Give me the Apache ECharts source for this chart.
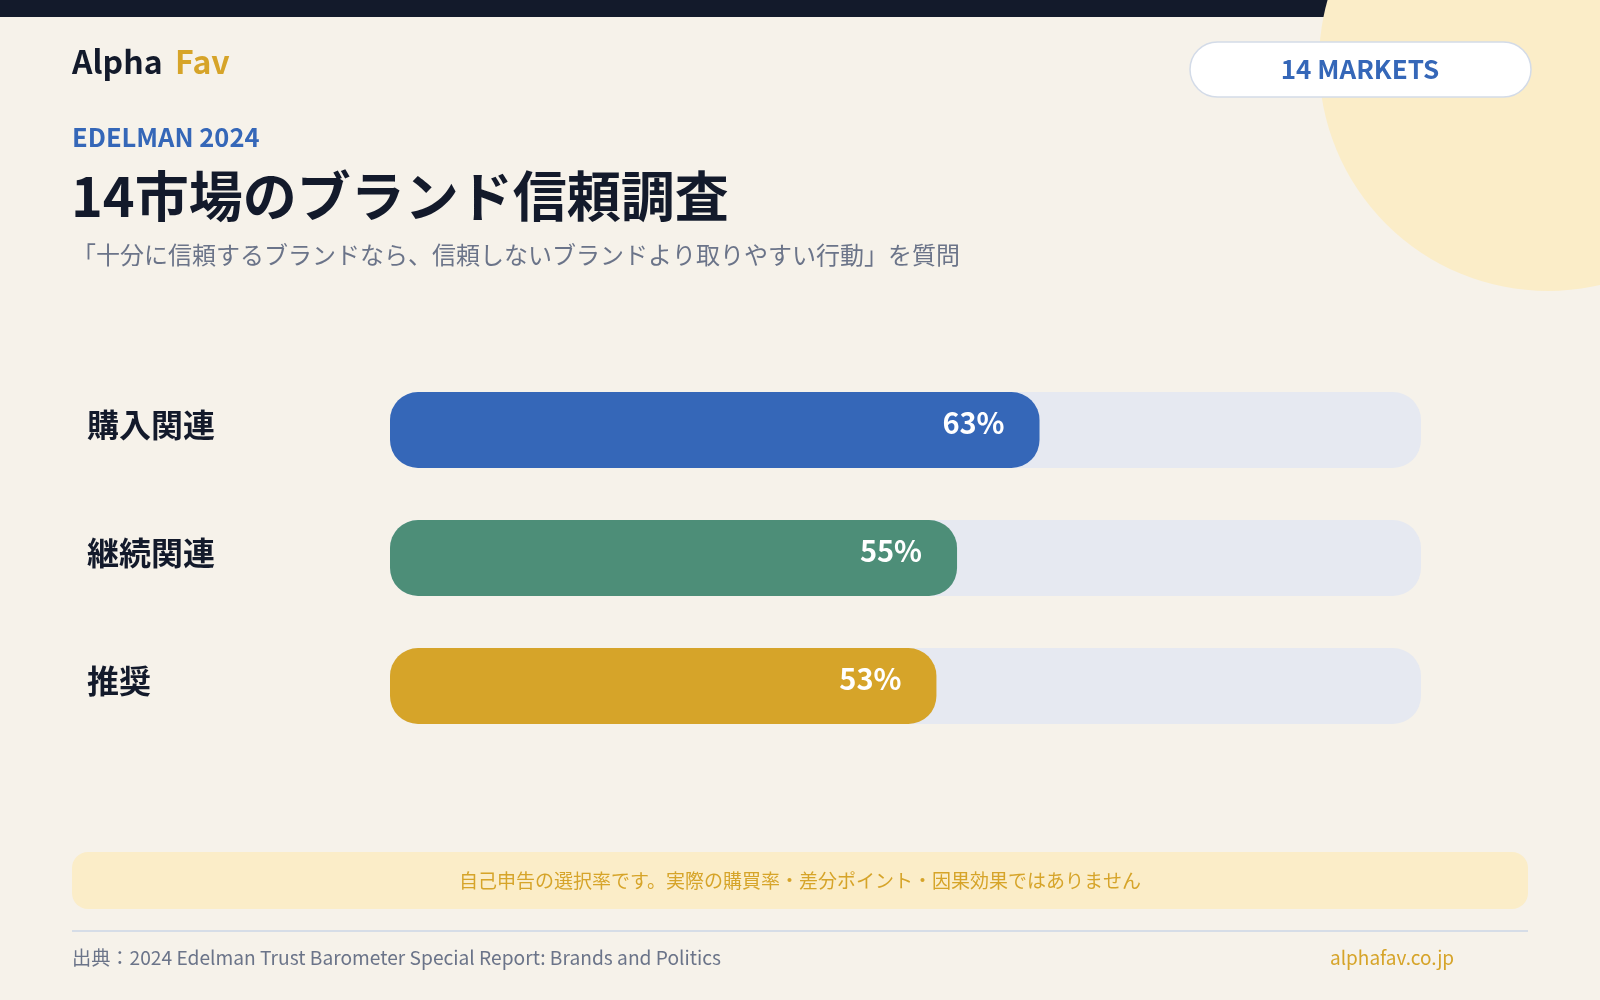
<!DOCTYPE html>
<html lang="ja">
<head>
<meta charset="utf-8">
<title>14市場のブランド信頼調査</title>
<script src="https://cdn.jsdelivr.net/npm/echarts@6/dist/echarts.min.js"></script>
<style>
  html, body { margin: 0; padding: 0; background: #f6f2ea; }
  #main { width: 1600px; height: 1000px; }
</style>
</head>
<body>
<div id="main"></div>
<script>
// data
var categories = ['購入関連', '継続関連', '推奨'];
var values = [63, 55, 53];
var barColors = ['#3567b8', '#4d8e78', '#d6a429'];

var FONT = '"Noto Sans CJK JP", "Noto Sans", sans-serif';
var chartDom = document.getElementById('main');
var myChart = echarts.init(chartDom);
var option;

option = {
    backgroundColor: '#f6f2ea',
    textStyle: { fontFamily: FONT },
    grid: {
        left: 390,
        right: 179,
        top: 366,
        height: 384,
        containLabel: false
    },
    xAxis: {
        type: 'value',
        min: 0,
        max: 100,
        show: false
    },
    yAxis: {
        type: 'category',
        data: categories,
        inverse: true,
        axisLine: { show: false },
        axisTick: { show: false },
        splitLine: { show: false },
        axisLabel: {
            align: 'left',
            margin: 303,
            formatter: '{cat|{value}}',
            rich: {
                cat: {
                    color: '#131a2b',
                    fontSize: 32,
                    fontWeight: 'bold',
                    fontFamily: FONT,
                    padding: [0, 0, 10, 0]
                }
            }
        }
    },
    series: [{
        type: 'bar',
        data: values.map(function (v, i) {
            return { value: v, itemStyle: { color: barColors[i] } };
        }),
        barWidth: 76,
        showBackground: true,
        backgroundStyle: {
            color: '#e6e9f1',
            borderRadius: 28
        },
        itemStyle: { borderRadius: 28 },
        label: {
            show: true,
            position: 'insideRight',
            distance: 35,
            offset: [0, -7],
            formatter: '{c}%',
            color: '#ffffff',
            fontSize: 29,
            fontWeight: 'bold',
            fontFamily: FONT
        },
        silent: true
    }],
    graphic: [
        // top dark band
        { type: 'rect', z: 1, shape: { x: 0, y: 0, width: 1600, height: 17 }, style: { fill: '#131a2b' } },
        // decorative circle
        { type: 'circle', z: 2, shape: { cx: 1548, cy: 62, r: 229 }, style: { fill: '#fbedc8' } },
        // brand
        { type: 'text', z: 5, x: 72, y: 62, style: { text: 'Alpha', fill: '#131a2b', font: 'bold 32px ' + FONT, verticalAlign: 'middle' } },
        { type: 'text', z: 5, x: 175, y: 62, style: { text: 'Fav', fill: '#d6a429', font: 'bold 32px ' + FONT, verticalAlign: 'middle' } },
        // markets pill
        { type: 'rect', z: 5, shape: { x: 1190, y: 42, width: 341, height: 55, r: 27.5 }, style: { fill: '#ffffff', stroke: '#d3dbe8', lineWidth: 1.5 } },
        { type: 'text', z: 6, x: 1360, y: 69, style: { text: '14 MARKETS', fill: '#3567b8', font: 'bold 26px ' + FONT, align: 'center', verticalAlign: 'middle' } },
        // headings
        { type: 'text', z: 5, x: 72, y: 137, style: { text: 'EDELMAN 2024', fill: '#3567b8', font: 'bold 25.5px ' + FONT, verticalAlign: 'middle' } },
        { type: 'text', z: 5, x: 71, y: 196, style: { text: '14市場のブランド信頼調査', fill: '#131a2b', font: 'bold 54px ' + FONT, verticalAlign: 'middle' } },
        { type: 'text', z: 5, x: 72, y: 255, style: { text: '「十分に信頼するブランドなら、信頼しないブランドより取りやすい行動」を質問', fill: '#6b7489', font: '24px ' + FONT, verticalAlign: 'middle' } },
        // note box
        { type: 'rect', z: 5, shape: { x: 72, y: 852, width: 1456, height: 57, r: 16 }, style: { fill: '#fbedc8' } },
        { type: 'text', z: 6, x: 800, y: 881, style: { text: '自己申告の選択率です。実際の購買率・差分ポイント・因果効果ではありません', fill: '#d6a429', font: '19px ' + FONT, align: 'center', verticalAlign: 'middle' } },
        // footer
        { type: 'line', z: 5, shape: { x1: 72, y1: 931, x2: 1528, y2: 931 }, style: { stroke: '#d6dde7', lineWidth: 2 } },
        { type: 'text', z: 5, x: 72, y: 958, style: { text: '出典：2024 Edelman Trust Barometer Special Report: Brands and Politics', fill: '#6b7489', font: '19.2px ' + FONT, verticalAlign: 'middle' } },
        { type: 'text', z: 5, x: 1330, y: 958, style: { text: 'alphafav.co.jp', fill: '#d6a429', font: '19px ' + FONT, verticalAlign: 'middle' } }
    ]
};

option && myChart.setOption(option);
window.addEventListener('resize', function () {
    myChart.resize();
});
</script>
</body>
</html>
